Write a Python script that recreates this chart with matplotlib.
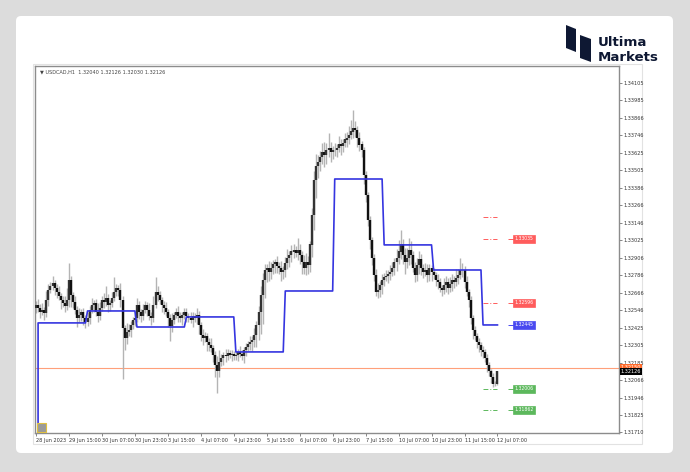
import numpy as np
import matplotlib
matplotlib.use("Agg")
import matplotlib.pyplot as plt
from matplotlib.patches import FancyBboxPatch, Rectangle, Polygon

# USDCAD H1 closes, 28 Jun 23:00 .. 12 Jul 07:00 (one row per trading day)
closes = [
    1.32582,
    # 29 Jun
    1.32561, 1.32534, 1.32548, 1.32527, 1.32616, 1.32685, 1.32712, 1.32733, 1.32698, 1.32671, 1.32644, 1.32616,
    1.32596, 1.32575, 1.32616, 1.32753, 1.32650, 1.32602, 1.32548, 1.32493, 1.32513, 1.32534, 1.32493, 1.32465,
    # 30 Jun
    1.32493, 1.32548, 1.32582, 1.32596, 1.32534, 1.32506, 1.32561, 1.32616, 1.32602, 1.32630, 1.32582, 1.32596,
    1.32630, 1.32671, 1.32698, 1.32685, 1.32616, 1.32424, 1.32355, 1.32396, 1.32410, 1.32444, 1.32479, 1.32493,
    # 3 Jul
    1.32582, 1.32534, 1.32506, 1.32548, 1.32582, 1.32548, 1.32506, 1.32493, 1.32582, 1.32671, 1.32650, 1.32616,
    1.32582, 1.32561, 1.32534, 1.32493, 1.32438, 1.32479, 1.32513, 1.32534, 1.32506, 1.32493, 1.32513, 1.32534,
    # 4 Jul
    1.32506, 1.32493, 1.32479, 1.32506, 1.32493, 1.32513, 1.32444, 1.32376, 1.32355, 1.32369, 1.32328, 1.32307,
    1.32287, 1.32238, 1.32170, 1.32126, 1.32191, 1.32218, 1.32238, 1.32232, 1.32252, 1.32238, 1.32245, 1.32232,
    # 5 Jul
    1.32238, 1.32259, 1.32245, 1.32232, 1.32273, 1.32294, 1.32314, 1.32328, 1.32342, 1.32376, 1.32444, 1.32534,
    1.32650, 1.32753, 1.32822, 1.32836, 1.32808, 1.32836, 1.32863, 1.32877, 1.32849, 1.32836, 1.32808, 1.32822,
    # 6 Jul
    1.32870, 1.32904, 1.32925, 1.32946, 1.32959, 1.32939, 1.32959, 1.32925, 1.32877, 1.32836, 1.32877, 1.32856,
    1.32994, 1.33199, 1.33439, 1.33535, 1.33563, 1.33597, 1.33631, 1.33611, 1.33645, 1.33659, 1.33631, 1.33645,
    # 7 Jul
    1.33645, 1.33659, 1.33680, 1.33673, 1.33693, 1.33714, 1.33727, 1.33748, 1.33769, 1.33796, 1.33782, 1.33727,
    1.33680, 1.33645, 1.33473, 1.33336, 1.33165, 1.33028, 1.32904, 1.32788, 1.32671, 1.32685, 1.32719, 1.32753,
    # 10 Jul
    1.32774, 1.32781, 1.32794, 1.32808, 1.32836, 1.32877, 1.32904, 1.32946, 1.32994, 1.32925, 1.32877, 1.32904,
    1.32959, 1.32925, 1.32836, 1.32788, 1.32856, 1.32891, 1.32836, 1.32808, 1.32822, 1.32788, 1.32836, 1.32808,
    # 11 Jul
    1.32788, 1.32753, 1.32740, 1.32698, 1.32685, 1.32719, 1.32740, 1.32698, 1.32726, 1.32753, 1.32740, 1.32767,
    1.32788, 1.32822, 1.32822, 1.32740, 1.32671, 1.32616, 1.32493, 1.32410, 1.32369, 1.32328, 1.32307, 1.32273,
    # 12 Jul
    1.32259, 1.32218, 1.32170, 1.32126, 1.32085, 1.32037, 1.32040, 1.32126,
]
first_open = 1.32560

# wick lengths in pips above / below the candle body
wick_up = [
    3,
    4, 3, 5, 2, 6, 4, 3, 5, 2, 3, 4, 2, 3, 5, 8, 12, 3, 2, 4, 3, 5, 2, 3, 2,
    4, 3, 5, 2, 3, 6, 4, 3, 5, 8, 3, 2, 4, 10, 3, 2, 5, 3, 2, 6, 4, 3, 2, 3,
    5, 3, 2, 4, 3, 2, 5, 3, 6, 10, 4, 3, 2, 3, 4, 2, 3, 5, 2, 3, 4, 3, 2, 3,
    3, 2, 4, 3, 2, 5, 3, 2, 4, 3, 2, 3, 5, 2, 3, 6, 8, 3, 2, 4, 3, 2, 3, 2,
    3, 2, 4, 3, 2, 3, 2, 4, 3, 5, 3, 4, 6, 5, 4, 3, 5, 4, 3, 2, 4, 3, 5, 3,
    4, 6, 3, 5, 4, 3, 8, 4, 3, 5, 6, 4, 3, 5, 6, 8, 5, 4, 6, 7, 5, 10, 4, 3,
    5, 3, 6, 4, 3, 5, 4, 6, 8, 12, 5, 3, 4, 3, 2, 3, 2, 3, 2, 3, 4, 5, 3, 4,
    3, 4, 3, 5, 4, 3, 6, 8, 10, 4, 5, 7, 8, 6, 3, 4, 5, 6, 4, 3, 5, 4, 3, 2,
    3, 2, 4, 3, 2, 5, 4, 3, 5, 4, 3, 6, 4, 8, 5, 3, 4, 2, 3, 2, 3, 2, 3, 2,
    3, 2, 3, 2, 2, 3, 2, 0,
]
wick_dn = [
    3,
    3, 4, 2, 5, 3, 4, 2, 3, 5, 4, 3, 6, 3, 4, 3, 5, 8, 4, 3, 6, 3, 4, 5, 4,
    3, 4, 2, 5, 3, 4, 3, 2, 4, 3, 5, 4, 3, 2, 3, 4, 5, 35, 8, 4, 3, 5, 3, 4,
    3, 5, 4, 3, 2, 4, 3, 5, 3, 2, 4, 3, 5, 4, 3, 6, 10, 4, 3, 2, 4, 3, 5, 3,
    4, 3, 2, 5, 3, 4, 6, 4, 5, 3, 6, 4, 3, 5, 8, 15, 4, 3, 5, 4, 3, 2, 4, 3,
    3, 4, 2, 3, 5, 4, 3, 4, 6, 5, 8, 10, 15, 20, 12, 8, 6, 5, 4, 6, 5, 4, 6, 5,
    5, 4, 6, 5, 4, 3, 5, 6, 8, 4, 5, 6, 5, 8, 10, 12, 8, 6, 5, 8, 6, 5, 7, 5,
    4, 5, 3, 6, 4, 3, 5, 4, 3, 4, 5, 6, 4, 5, 6, 5, 4, 6, 5, 4, 3, 4, 5, 6,
    4, 3, 5, 4, 3, 5, 6, 4, 5, 6, 8, 4, 5, 6, 3, 5, 4, 6, 5, 4, 3, 5, 4, 6,
    3, 4, 5, 3, 4, 3, 5, 4, 3, 5, 4, 3, 4, 3, 5, 4, 3, 5, 4, 6, 3, 4, 5, 4,
    4, 3, 5, 3, 4, 2, 1, 1,
]

# daily pivot (blue step line); first bar has no value yet
day_bars = [1, 24, 24, 24, 24, 24, 24, 24, 24, 24, 8]
day_pivots = [0.0, 1.32459, 1.32541, 1.32431, 1.32500, 1.32260, 1.32678, 1.33446, 1.32994, 1.32822, 1.32445]

# today's levels drawn at the right edge
level_prices = [1.33186, 1.33035, 1.32596, 1.32445, 1.32006, 1.31862]
level_colors = ["#ff5c5c", "#ff5c5c", "#ff5c5c", "#4a4af0", "#5cb85c", "#5cb85c"]
level_tags = [False, True, True, True, True, True]

bid = 1.32126
ask = 1.32150

x_labels = ["28 Jun 2023", "29 Jun 15:00", "30 Jun 07:00", "30 Jun 23:00", "3 Jul 15:00",
            "4 Jul 07:00", "4 Jul 23:00", "5 Jul 15:00", "6 Jul 07:00", "6 Jul 23:00",
            "7 Jul 15:00", "10 Jul 07:00", "10 Jul 23:00", "11 Jul 15:00", "12 Jul 07:00"]
y_ticks = [1.34105, 1.33985, 1.33866, 1.33746, 1.33625, 1.33505, 1.33386, 1.33266, 1.33146,
           1.33025, 1.32906, 1.32786, 1.32666, 1.32546, 1.32425, 1.32305, 1.32185, 1.32066,
           1.31946, 1.31825, 1.31710]

W, H = 690, 472


def px(x, y):
    # pixel (from top-left) to inches for dpi_scale_trans
    return x / 100, (H - y) / 100


fig = plt.figure(figsize=(W / 100, H / 100), dpi=100)
fig.patch.set_facecolor("#dcdcdc")

card = FancyBboxPatch(px(16, 453), 6.57, 4.37, boxstyle="round,pad=0,rounding_size=0.05",
                      transform=fig.dpi_scale_trans, facecolor="white", edgecolor="none", zorder=-2)
fig.patches.append(card)
shot = Rectangle(px(33, 444), 6.09, 3.80, transform=fig.dpi_scale_trans,
                 facecolor="white", edgecolor="#e2e2e2", lw=0.8, zorder=-1)
fig.patches.append(shot)

# logo
navy = "#0e1833"
fig.patches.append(Polygon([px(566, 25), px(576, 29), px(576, 52), px(566, 48)], closed=True,
                           transform=fig.dpi_scale_trans, facecolor=navy, edgecolor="none"))
fig.patches.append(Polygon([px(580, 35), px(591, 39), px(591, 62), px(580, 58)], closed=True,
                           transform=fig.dpi_scale_trans, facecolor=navy, edgecolor="none"))
fig.text(598 / W, 1 - 43 / H, "Ultima", fontsize=9.6, fontweight="bold", color=navy, va="center", ha="left")
fig.text(598 / W, 1 - 57.5 / H, "Markets", fontsize=9.6, fontweight="bold", color=navy, va="center", ha="left")

ax = fig.add_axes([35 / W, 1 - 433 / H, (619 - 35) / W, (433 - 66) / H])
ax.set_zorder(3)

closes = np.array(closes)
n = len(closes)
idx = np.arange(n)
opens = np.r_[first_open, closes[:-1]]
highs = np.maximum(opens, closes) + np.array(wick_up) * 0.0001
lows = np.minimum(opens, closes) - np.array(wick_dn) * 0.0001

ax.vlines(idx, lows, highs, color="#b4b4b4", lw=1.0, zorder=2)
body_col = np.where(closes >= opens, "#333333", "#111111")
ax.vlines(idx, np.minimum(opens, closes), np.maximum(opens, closes) + 0.00003,
          colors=body_col, lw=1.7, zorder=3)

pivot_line = np.repeat(day_pivots, day_bars)
ax.plot(idx, pivot_line, color="#3535e0", lw=1.2, zorder=4)

ax.axhline(ask, color="#ffa07a", lw=0.8, zorder=1)

last_day = n - day_bars[-1]
for p, c, tag in zip(level_prices, level_colors, level_tags):
    if c != "#4a4af0":
        ax.hlines(p, last_day, n - 1, colors=c, lw=0.7, linestyles=(0, (5, 2, 1, 2)), zorder=4)
    if tag:
        ax.hlines(p, n + 4, n + 7, colors=c, lw=0.7, zorder=4)
        ax.text(n + 7.3, p, f"{p:.5f}", fontsize=3.3, color="white", va="center", ha="left",
                bbox=dict(boxstyle="square,pad=0.3", facecolor=c, edgecolor=c, lw=0.5), zorder=5)

ax.set_xlim(-0.5, 283)
ax.set_ylim(1.31704, 1.34221)

ax.yaxis.tick_right()
ax.set_yticks(y_ticks)
ax.set_yticklabels([f"{v:.5f}" for v in y_ticks])
ax.set_xticks(np.arange(0, 16 * len(x_labels), 16))
ax.set_xticklabels(x_labels)
for lab in ax.get_xticklabels():
    lab.set_ha("left")
ax.tick_params(axis="both", labelsize=3.6, length=2, width=0.5, colors="#555555", pad=1.5,
               labelcolor="#333333")

for s in ax.spines.values():
    s.set_color("#8c8c8c")
    s.set_linewidth(1.0)

# bid / ask tags on the price scale
ax.text(1.003, ask, f"{ask:.5f}", transform=ax.get_yaxis_transform(), fontsize=3.6, color="white",
        va="center", ha="left", bbox=dict(boxstyle="square,pad=0.2", facecolor="#ff6a2a", edgecolor="none"))
ax.text(1.003, bid, f"{bid:.5f}", transform=ax.get_yaxis_transform(), fontsize=3.6, color="white",
        va="center", ha="left", bbox=dict(boxstyle="square,pad=0.2", facecolor="black", edgecolor="none"))

ax.text(0.008, 0.99, "\u25bc USDCAD,H1  1.32040 1.32126 1.32030 1.32126", transform=ax.transAxes,
        fontsize=3.6, color="#444444", va="top", ha="left")

# small one-click trading button in the bottom-left corner
ax.add_patch(Rectangle((0.004, 0.003), 0.015, 0.024, transform=ax.transAxes,
                       facecolor="#9a9a9a", edgecolor="#e0c040", lw=0.8, zorder=6))

fig.savefig("out.png", dpi=100)
